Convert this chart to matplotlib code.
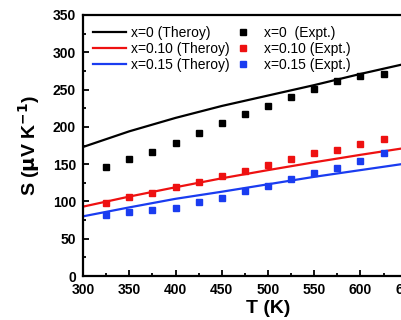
import matplotlib
matplotlib.use("Agg")
import matplotlib.pyplot as plt
from matplotlib.ticker import MultipleLocator

# Data
T_theory = [300, 350, 400, 450, 500, 550, 600, 650]
S_theory_x0 = [173, 194, 212, 228, 242, 256, 271, 285]
S_theory_x010 = [93, 106.5, 119, 131, 142, 152.5, 162.5, 172]
S_theory_x015 = [80, 92, 103.5, 113, 123, 133, 142, 151]

T_expt = [325, 350, 375, 400, 425, 450, 475, 500, 525, 550, 575, 600, 625, 650]
S_expt_x0 = [145.8, 157, 166.7, 178, 191.8, 204.8, 217, 228, 239.6, 250.8, 262, 268, 270.9, 283]
S_expt_x010 = [98.3, 106.4, 111.7, 119, 126.5, 134, 140.8, 148.9, 156.9, 164.5, 169, 177, 183.3, 191.8]
S_expt_x015 = [81.8, 85.4, 88.5, 90.8, 98.8, 104, 114.4, 121, 129.6, 137.7, 144.8, 154, 164.5, 172]

labels_theory = ["x=0 (Theroy)", "x=0.10 (Theroy)", "x=0.15 (Theroy)"]
labels_expt = ["x=0  (Expt.)", "x=0.10 (Expt.)", "x=0.15 (Expt.)"]
colors = ["black", "#ee1111", "#1a3cf0"]

plt.rcParams['font.family'] = ['Liberation Sans', 'DejaVu Sans']

W, H = 401, 320
fig = plt.figure(figsize=(W / 100, H / 100), dpi=100)
ax = fig.add_axes([83 / W, 44 / H, 370 / W, 261 / H])

theory = [S_theory_x0, S_theory_x010, S_theory_x015]
expt = [S_expt_x0, S_expt_x010, S_expt_x015]
lh, mh = [], []
for s, c, lab in zip(theory, colors, labels_theory):
    l, = ax.plot(T_theory, s, color=c, lw=1.6, label=lab)
    lh.append(l)
for s, c, lab in zip(expt, colors, labels_expt):
    m, = ax.plot(T_expt, s, ls='none', marker='s', ms=5.0, color=c, label=lab)
    mh.append(m)

ax.set_xlim(300, 700)
ax.set_ylim(0, 350)
ax.xaxis.set_major_locator(MultipleLocator(50))
ax.xaxis.set_minor_locator(MultipleLocator(25))
ax.yaxis.set_major_locator(MultipleLocator(50))
ax.yaxis.set_minor_locator(MultipleLocator(25))
ax.tick_params(which='both', direction='in', width=1.3)
ax.tick_params(which='major', length=4.5, labelsize=10)
ax.tick_params(axis='x', which='major', pad=5)
ax.tick_params(axis='y', which='major', pad=5)
ax.tick_params(which='minor', length=2.5)
for lbl in ax.get_xticklabels() + ax.get_yticklabels():
    lbl.set_fontweight('bold')
for sp in ax.spines.values():
    sp.set_linewidth(1.6)

ax.set_xlabel("T (K)", fontsize=14, fontweight='bold', labelpad=2)
ax.set_ylabel(r"S ($\mathbf{\mu}$V K$^{\mathbf{-1}}$)", fontsize=14, fontweight='bold', labelpad=8)

leg1 = ax.legend(handles=lh, loc='upper left', bbox_to_anchor=(93 / W, 1 - 26 / H),
                 bbox_transform=fig.transFigure, frameon=False, fontsize=10,
                 handlelength=2.4, handletextpad=0.35, labelspacing=0.15,
                 borderpad=0, borderaxespad=0)
ax.add_artist(leg1)
leg2 = ax.legend(handles=mh, loc='upper left', bbox_to_anchor=(226 / W, 1 - 26 / H),
                 bbox_transform=fig.transFigure, frameon=False, fontsize=10,
                 handlelength=2.4, handletextpad=0.35, labelspacing=0.15,
                 borderpad=0, borderaxespad=0, numpoints=1)

fig.savefig("out.png", dpi=100)
